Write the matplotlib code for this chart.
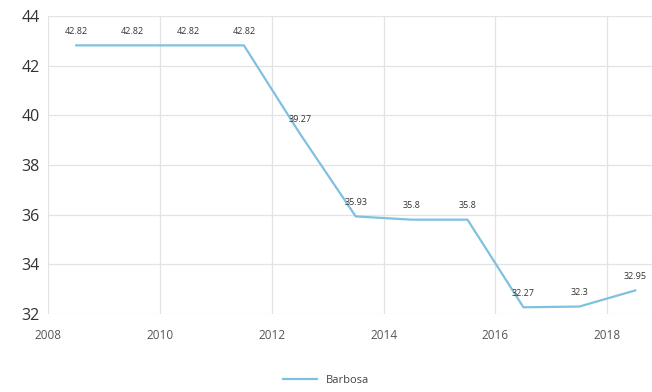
import matplotlib
matplotlib.use("Agg")
import matplotlib.pyplot as plt

years = [2008.5, 2009.5, 2010.5, 2011.5, 2012.5, 2013.5, 2014.5, 2015.5, 2016.5, 2017.5, 2018.5]
values = [42.82, 42.82, 42.82, 42.82, 39.27, 35.93, 35.8, 35.8, 32.27, 32.3, 32.95]
series_name = "Barbosa"
x_ticks = [2008, 2010, 2012, 2014, 2016, 2018]
y_ticks = [32, 34, 36, 38, 40, 42, 44]

plt.rcParams['font.family'] = ['Open Sans', 'DejaVu Sans']

fig = plt.figure(figsize=(6.52, 3.92), dpi=100)
ax = fig.add_axes([0.074, 0.199, 0.926, 0.76])

line_color = "#80c1df"
ax.plot(years, values, color=line_color, linewidth=1.6, label=series_name)

# labels above each point
for x, y in zip(years, values):
    ax.annotate(str(y), (x, y), xytext=(0, 7), textcoords="offset points",
                ha="center", va="bottom", fontsize=6.5, color="#333333")

ax.set_xlim(2008, 2018.8)
ax.set_ylim(32, 44)
ax.set_xticks(x_ticks)
ax.set_yticks(y_ticks)
ax.tick_params(axis="y", labelsize=11.5, colors="#333333", length=0, pad=6)
ax.tick_params(axis="x", labelsize=8.5, colors="#555555", length=0, pad=11)
ax.grid(True, color="#e3e3e3", linewidth=0.9)
ax.set_axisbelow(True)
for s in ax.spines.values():
    s.set_visible(False)

fig.legend(loc="lower center", bbox_to_anchor=(0.5, -0.01), frameon=False,
           fontsize=8, handlelength=3, labelcolor="#444444")

fig.savefig("out.png", dpi=100)
